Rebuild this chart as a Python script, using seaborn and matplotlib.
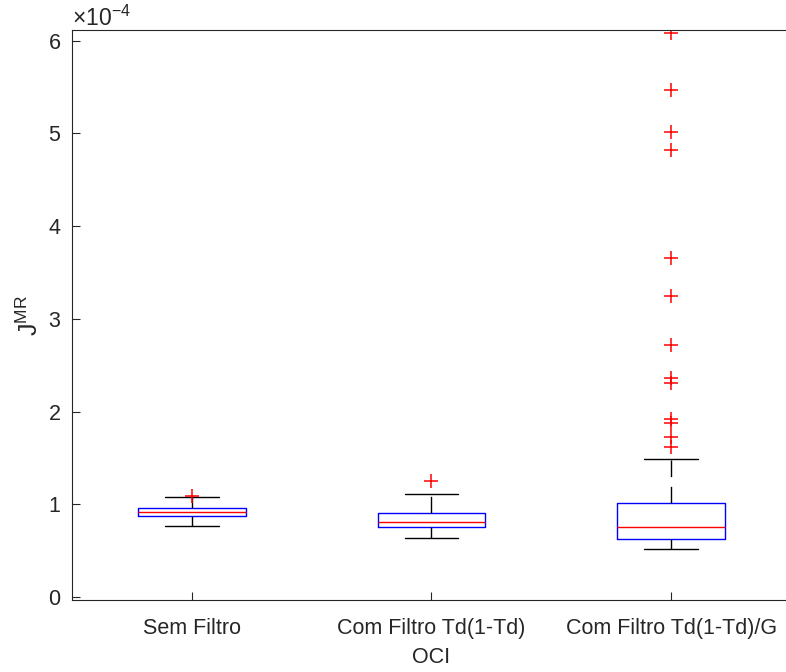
import seaborn as sns
import numpy as np
import pandas as pd
import matplotlib.pyplot as plt

# valores (em unidades de 1e-4)
grupos = ['Sem Filtro', 'Com Filtro Td(1-Td)', 'Com Filtro Td(1-Td)/G']

# [bigode inferior, q1, mediana, q3, bigode superior]
resumo_sem = [0.769, 0.878, 0.916, 0.962, 1.085]
resumo_td = [0.639, 0.755, 0.815, 0.912, 1.110]
resumo_tdg = [0.517, 0.628, 0.761, 1.020, 1.491]

outliers_sem = [1.095]
outliers_td = [1.257]
outliers_tdg = [6.086, 5.468, 5.016, 4.818, 3.661, 3.245, 2.723,
                2.364, 2.313, 1.919, 1.876, 1.725, 1.617]

escala = 1e-4


def amostra(resumo, outliers, k=20):
    # monta uma amostra cujos quartis batem com o resumo lido
    lo, q1, med, q3, hi = resumo
    return [lo] + [q1] * k + [med] * k + [q3] * k + [hi] + outliers


valores = [amostra(resumo_sem, outliers_sem),
           amostra(resumo_td, outliers_td),
           amostra(resumo_tdg, outliers_tdg)]

df = pd.concat([pd.DataFrame({'OCI': g, 'J': np.array(v) * escala})
                for g, v in zip(grupos, valores)]).reset_index(drop=True)

sns.set_theme(style="white")
plt.rcParams['font.family'] = ['Liberation Sans', 'DejaVu Sans']
plt.rcParams['mathtext.fontset'] = 'custom'
plt.rcParams['mathtext.rm'] = 'Liberation Sans'
plt.rcParams['mathtext.it'] = 'Liberation Sans:italic'

cinza = '#262626'

fig = plt.figure(figsize=(7.86, 6.72), dpi=100)
ax = fig.add_axes([72 / 786, 1 - 600 / 672, 719 / 786, 570 / 672])

sns.boxplot(df, x='OCI', y='J', order=grupos, width=0.45, fill=False,
            whis=1.5, linewidth=1, ax=ax,
            boxprops=dict(color='blue'),
            medianprops=dict(color='red'),
            whiskerprops=dict(color='black', linestyle=(0, (12, 7))),
            capprops=dict(color='black'),
            flierprops=dict(marker='+', markersize=10.5, markeredgecolor='red',
                            markerfacecolor='none', markeredgewidth=1.1))

ax.set_ylim(-0.03e-4, 6.115e-4)
ax.set_xlim(-0.5, 2.5)
ax.set_yticks(np.arange(0, 7) * escala)
ax.ticklabel_format(axis='y', style='sci', scilimits=(0, 0), useMathText=True)
ax.yaxis.get_offset_text().set_fontsize(16.5)
ax.yaxis.get_offset_text().set_color(cinza)

ax.tick_params(axis='both', direction='in', length=6, width=0.8, color=cinza,
               labelsize=15.5, labelcolor=cinza)
ax.tick_params(axis='y', pad=8, left=True)
ax.tick_params(axis='x', pad=13, bottom=True)

for s in ax.spines.values():
    s.set_visible(True)
    s.set_color(cinza)
    s.set_linewidth(0.8)

ax.set_xlabel('OCI', fontsize=15.5, color=cinza, labelpad=6)
ax.set_ylabel(r'$\mathregular{J^{MR}}$', fontsize=18, color=cinza, labelpad=3)

fig.savefig('out.png', dpi=100)
